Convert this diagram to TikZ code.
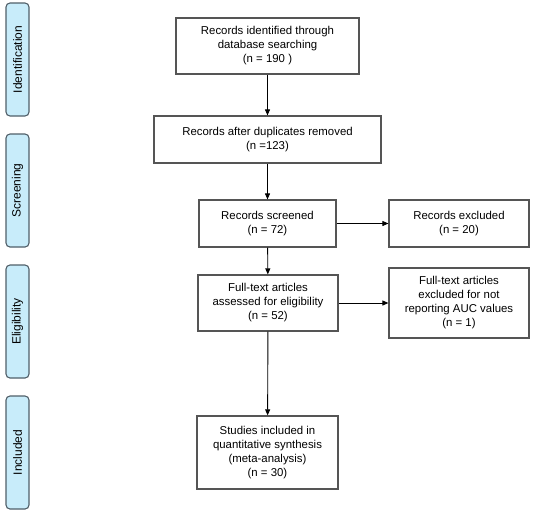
\documentclass[tikz,border=0pt]{standalone}
\usepackage{fontspec}
\setmainfont{Liberation Sans}
\usetikzlibrary{arrows.meta}
\definecolor{boxline}{RGB}{85,85,85}
\definecolor{phasefill}{RGB}{200,236,250}
\definecolor{phaseline}{RGB}{80,95,105}
\tikzset{
  flowbox/.style={draw=boxline, line width=1.2pt, fill=white, align=center, inner sep=0pt,
    font=\fontsize{11.4}{14}\selectfont},
  phasebox/.style={draw=phaseline, line width=1.1pt, fill=phasefill, rounded corners=4pt,
    minimum width=113pt, minimum height=23pt, inner sep=0pt, rotate=90,
    font=\fontsize{12}{14}\selectfont},
  flowarrow/.style={draw=black, line width=0.9pt, -{Triangle[length=6pt,width=5pt]}}
}
\begin{document}
\begin{tikzpicture}[x=1pt,y=-1pt]
\useasboundingbox (0,0) rectangle (534,515);
% phase labels
\node[phasebox] (pid) at (17.5,59.5) {Identification};
\node[phasebox] (psc) at (17.5,190.5) {Screening};
\node[phasebox] (pel) at (17.5,321.5) {Eligibility};
\node[phasebox] (pin) at (17.5,452.5) {Included};
% flow boxes
\node[flowbox, minimum width=183pt, minimum height=56pt] (b1) at (267.5,46)
  {Records identified through\\database searching\\(n = 190 )};
\node[flowbox, minimum width=227pt, minimum height=47pt] (b2) at (267.5,139.5)
  {Records after duplicates removed\\(n =123)};
\node[flowbox, minimum width=137pt, minimum height=47pt] (b3) at (267.5,223.5)
  {Records screened\\(n = 72)};
\node[flowbox, minimum width=140pt, minimum height=47pt] (e1) at (459,223.5)
  {Records excluded\\(n = 20)};
\node[flowbox, minimum width=140pt, minimum height=56pt] (b4) at (268,303)
  {Full-text articles\\assessed for eligibility\\(n = 52)};
\node[flowbox, minimum width=140pt, minimum height=70pt] (e2) at (459,303)
  {Full-text articles\\excluded for not\\reporting AUC values\\(n = 1)};
\node[flowbox, minimum width=141pt, minimum height=73pt] (b5) at (267.5,452.5)
  {Studies included in\\quantitative synthesis\\(meta-analysis)\\(n = 30)};
% connectors
\draw[flowarrow] (b1) -- (b2);
\draw[flowarrow] (b2) -- (b3);
\draw[flowarrow] (b3) -- (e1);
\draw[flowarrow] (b3) -- (b4);
\draw[flowarrow] (b4) -- (e2);
\draw[flowarrow] (b4) -- (b5);
\end{tikzpicture}
\end{document}
